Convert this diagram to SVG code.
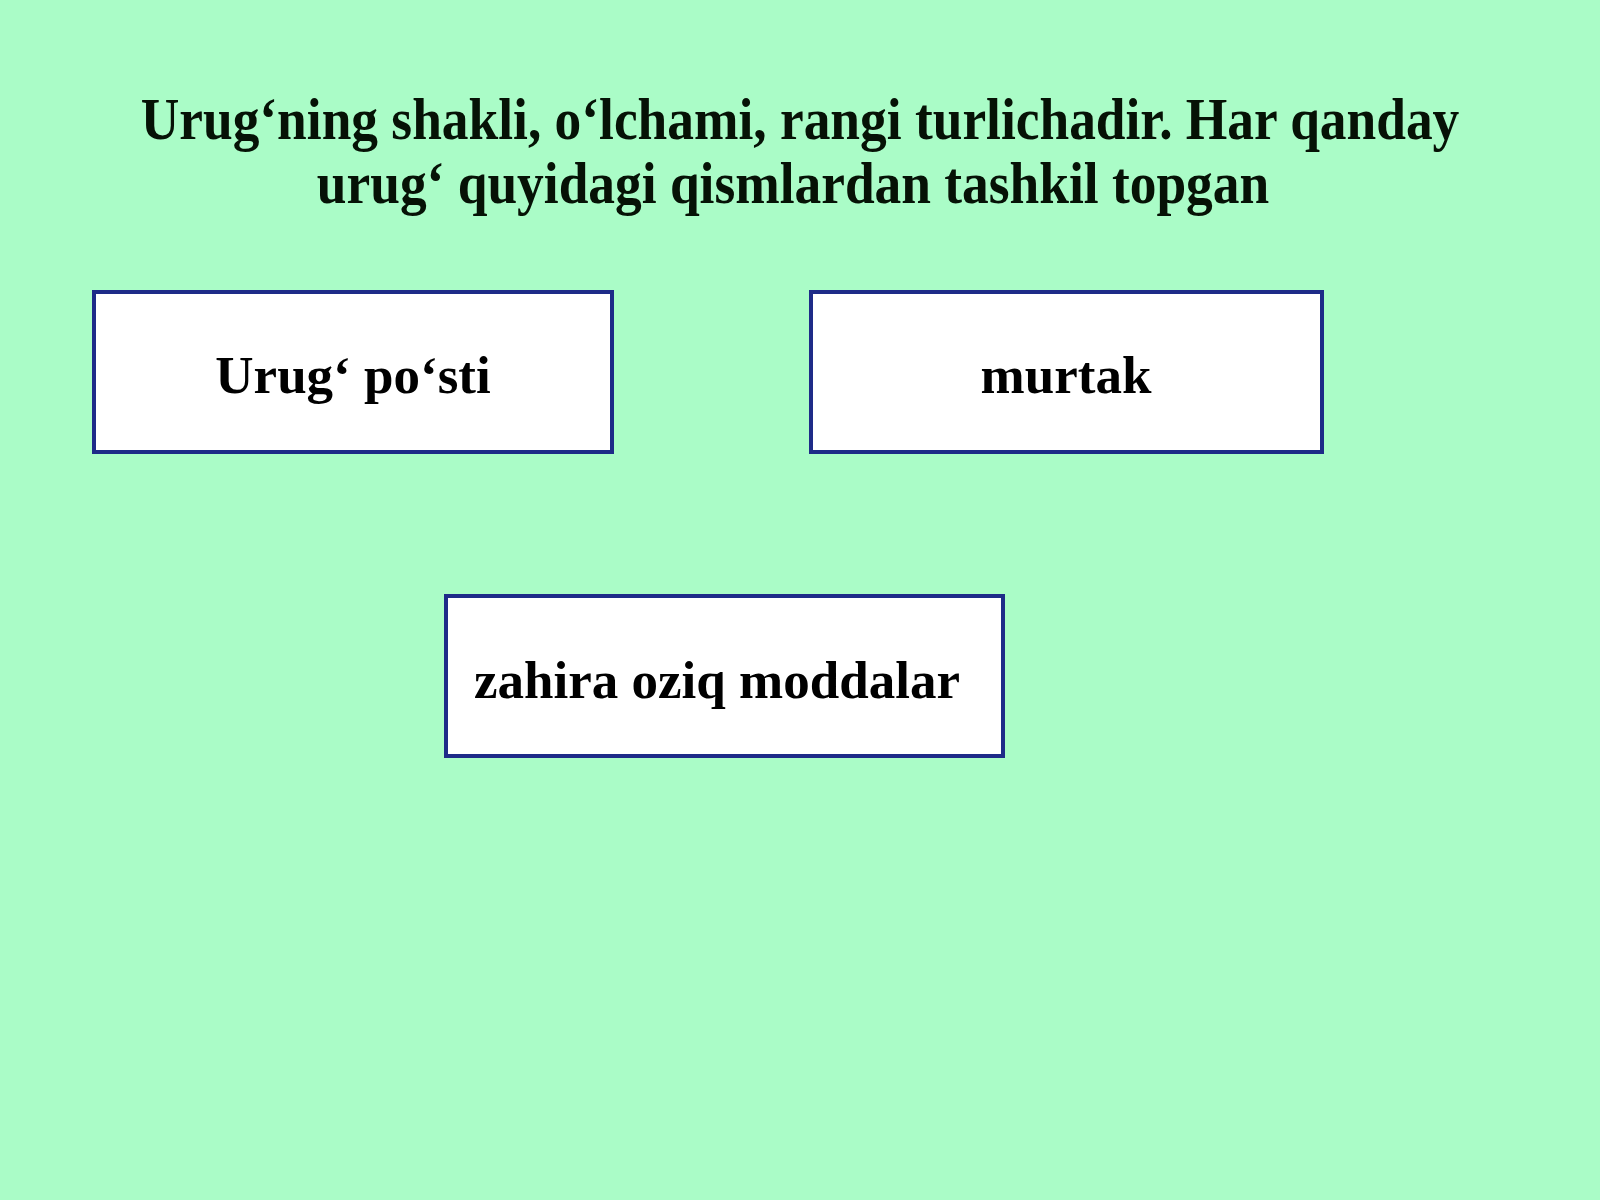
<svg xmlns="http://www.w3.org/2000/svg" width="1600" height="1200" viewBox="0 0 1600 1200">
<style>
.title{font-family:"Liberation Serif","Times New Roman",serif;font-weight:bold;font-size:60px;fill:#061206;text-anchor:middle}
.box{fill:#ffffff;stroke:#1e2b88;stroke-width:4}
.lbl{font-family:"Liberation Serif","Times New Roman",serif;font-weight:bold;font-size:53px;fill:#000;text-anchor:middle}
</style>
<rect width="1600" height="1200" fill="#aafcc7"/>
<g id="title">
<text class="title" transform="translate(800,139) scale(0.89,1)" x="0" y="0">Urug‘ning shakli, o‘lchami, rangi turlichadir. Har qanday</text>
<text class="title" transform="translate(793,203) scale(0.89,1)" x="0" y="0">urug‘ quyidagi qismlardan tashkil topgan</text>
</g>
<g id="node-urug-posti">
<rect class="box" x="94" y="292" width="518" height="160"/>
<text class="lbl" x="353" y="393">Urug‘ po‘sti</text>
</g>
<g id="node-murtak">
<rect class="box" x="811" y="292" width="511" height="160"/>
<text class="lbl" x="1066" y="393">murtak</text>
</g>
<g id="node-zahira">
<rect class="box" x="446" y="596" width="557" height="160"/>
<text class="lbl" x="717" y="698">zahira oziq moddalar</text>
</g>
<g id="connectors"></g>
</svg>
